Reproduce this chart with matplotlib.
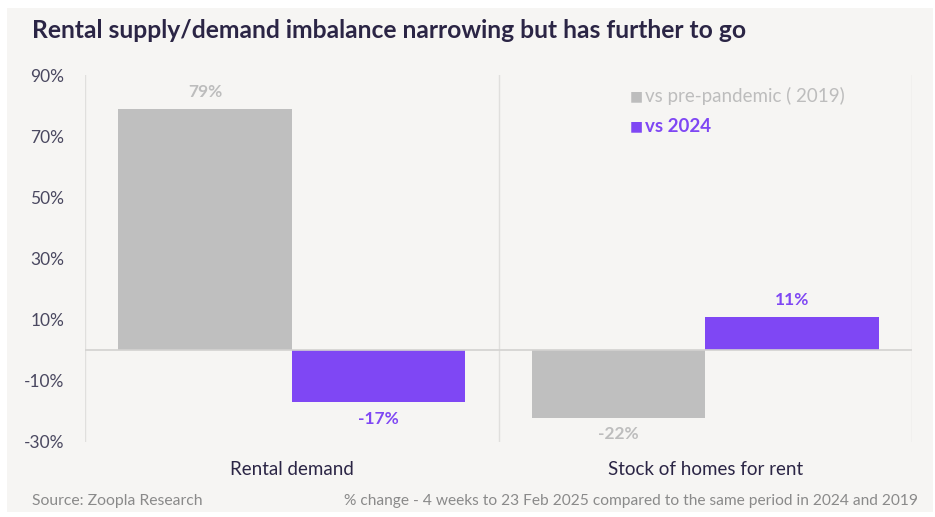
import matplotlib
matplotlib.use("Agg")
import matplotlib.pyplot as plt
from matplotlib.patches import Rectangle
import numpy as np

categories = ["Rental demand", "Stock of homes for rent"]
series_names = ["vs pre-pandemic ( 2019)", "vs 2024"]
vs_2019 = [79, -22]
vs_2024 = [-17, 11]
yticks = [90, 70, 50, 30, 10, -10, -30]

GRAY = "#BFBFBF"
GRAY_TXT = "#BDBDBD"
PURPLE = "#7F47F4"
BG = "#F6F5F3"
DARK = "#2B2545"
TICK = "#4A4860"

plt.rcParams['font.family'] = ['Lato', 'DejaVu Sans']

W, H = 935, 517
fig = plt.figure(figsize=(W / 100, H / 100), dpi=100)
fig.patch.set_facecolor("white")
fig.patches.append(Rectangle((7 / W, 1 - 512 / H), (933 - 7) / W, (512 - 8) / H,
                             transform=fig.transFigure, facecolor=BG, edgecolor="none", zorder=-5))

ax = fig.add_axes([85 / W, 1 - 442 / H, (912 - 85) / W, (442 - 75) / H])
ax.set_zorder(2)
ax.set_facecolor("none")
x = np.arange(len(categories))
bw = 0.42
b1 = ax.bar(x - bw / 2, vs_2019, width=bw, color=GRAY, zorder=2)
b2 = ax.bar(x + bw / 2, vs_2024, width=bw, color=PURPLE, zorder=2)

ax.set_xlim(-0.5, len(categories) - 0.5)
ax.set_ylim(-30, 90)
ax.set_yticks(yticks)
ax.set_yticklabels([f"{t}%" for t in yticks], fontsize=12.5, color=TICK)
ax.set_xticks(x)
ax.set_xticklabels(categories, fontsize=13.5, color=DARK)
ax.tick_params(axis="both", length=0)
ax.tick_params(axis="y", pad=15)
ax.tick_params(axis="x", pad=14)
for s in ax.spines.values():
    s.set_visible(False)
for xv in np.arange(-0.5, len(categories), 1.0):
    ax.axvline(xv, color="#E0DFDD", lw=1, zorder=1)
ax.axhline(0, color="#D3D2D0", lw=1.2, zorder=3)

for bars, vals, col in [(b1, vs_2019, GRAY_TXT), (b2, vs_2024, PURPLE)]:
    for rect, v in zip(bars, vals):
        cx = rect.get_x() + rect.get_width() / 2
        if v >= 0:
            ax.annotate(f"{v}%", (cx, v), xytext=(0, 6), textcoords="offset points",
                        ha="center", va="bottom", fontsize=12.5, fontweight="bold", color=col)
        else:
            ax.annotate(f"{v}%", (cx, v), xytext=(0, -6), textcoords="offset points",
                        ha="center", va="top", fontsize=12.5, fontweight="bold", color=col)

# legend
for i, (name, col) in enumerate(zip(series_names, [GRAY_TXT, PURPLE])):
    yy = 1 - (96 + 30 * i) / H
    fig.text(630 / W, yy, "■", fontsize=10, color=col, ha="left", va="center",
             family=["DejaVu Sans"])
    fig.text(645 / W, yy, name, fontsize=13.5, color=col, ha="left", va="center",
             fontweight="bold" if i == 1 else "normal")

fig.text(32 / W, 1 - 30 / H, "Rental supply/demand imbalance narrowing but has further to go",
         fontsize=17.7, fontweight="bold", color=DARK, ha="left", va="center")
fig.text(32 / W, 1 - 501 / H, "Source: Zoopla Research", fontsize=11.3, color="#8A8A8A",
         ha="left", va="center")
fig.text(918 / W, 1 - 501 / H,
         "% change - 4 weeks to 23 Feb 2025 compared to the same period in 2024 and 2019",
         fontsize=11.2, color="#8A8A8A", ha="right", va="center")

fig.savefig("out.png", dpi=100, facecolor=fig.get_facecolor())
